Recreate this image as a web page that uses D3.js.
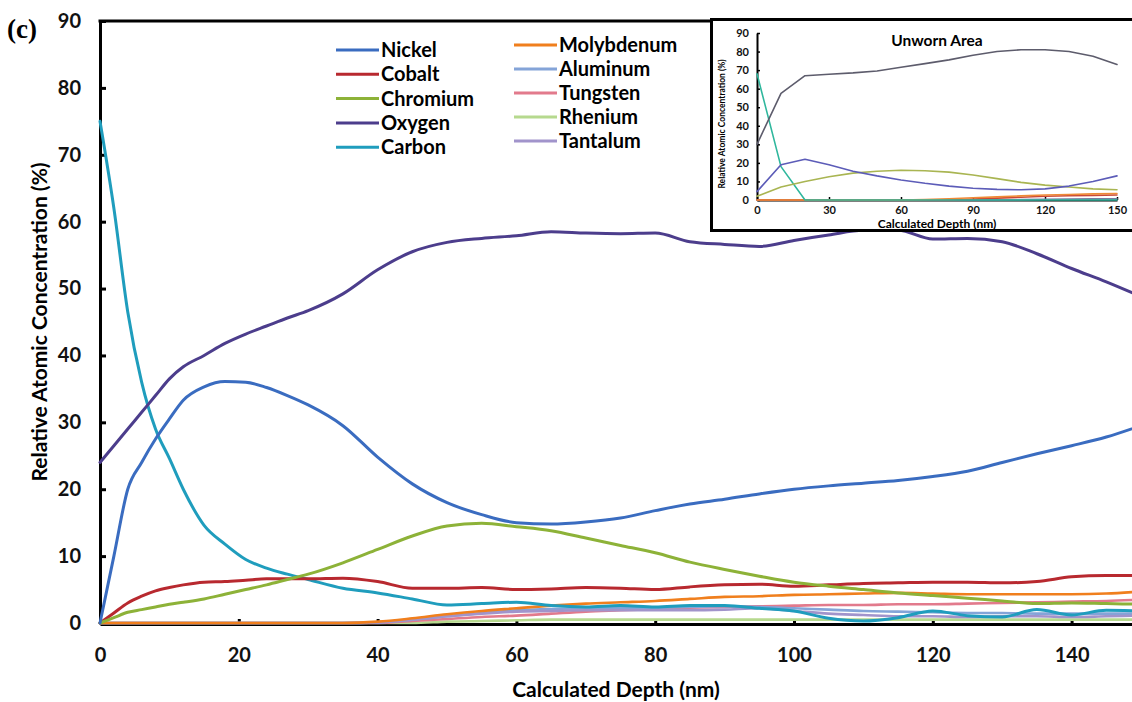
<!DOCTYPE html>
<html>
<head>
<meta charset="utf-8">
<script src="https://cdn.jsdelivr.net/npm/d3@7"></script>
<style>
  body  { margin: 0; background: #fff; overflow: hidden }
  svg   { display: block; font-family: Lato, "Open Sans", sans-serif; font-weight: bold }
  .line { fill: none; stroke-linejoin: round; stroke-linecap: round }
  .axis path, .axis line { stroke: #000 }
  .axis text { fill: #111 }
</style>
</head>
<body>
<script>
// Main chart - depth profile (nm) and atomic %
var depth      = [0, 2, 4, 6, 8, 10, 12, 15, 18, 21, 24, 27, 30, 35, 40, 45, 50, 55, 60, 65, 70, 75, 80, 85, 90, 95, 100, 105, 110, 115, 120, 125, 130, 135, 140, 145, 150]
var nickel     = [0, 10, 20, 24, 27.5, 30.5, 33.3, 35.3, 36.1, 36, 35.2, 34, 32.6, 29.5, 24.8, 20.8, 18, 16.2, 15, 14.8, 15.1, 15.7, 16.8, 17.8, 18.5, 19.3, 20, 20.5, 20.9, 21.3, 21.9, 22.7, 24, 25.3, 26.5, 27.8, 29.5]
var cobalt     = [0, 1.5, 3, 4, 4.8, 5.3, 5.7, 6.1, 6.2, 6.4, 6.6, 6.6, 6.6, 6.7, 6.2, 5.2, 5.2, 5.3, 5.0, 5.1, 5.3, 5.2, 5.0, 5.4, 5.7, 5.8, 5.5, 5.7, 5.9, 6.0, 6.1, 6.1, 6.0, 6.2, 6.9, 7.1, 7.1]
var chromium   = [0, 0.8, 1.6, 2, 2.4, 2.8, 3.1, 3.6, 4.3, 5, 5.7, 6.5, 7.3, 9, 11, 13, 14.5, 14.9, 14.4, 13.8, 12.7, 11.6, 10.5, 9.1, 8, 7, 6.1, 5.5, 5, 4.5, 4.1, 3.7, 3.3, 2.9, 3, 2.9, 2.8]
var oxygen     = [24, 26.5, 29, 31.5, 34, 36.5, 38.3, 40, 41.8, 43.2, 44.4, 45.6, 46.7, 49.2, 52.8, 55.5, 56.9, 57.5, 57.9, 58.5, 58.3, 58.2, 58.3, 57, 56.6, 56.3, 57.2, 58, 58.7, 58.7, 57.4, 57.5, 57, 55.2, 53, 51, 48.8]
var carbon     = [75, 62, 46.5, 36, 29, 24.6, 20, 14.6, 11.8, 9.5, 8.2, 7.3, 6.5, 5.2, 4.5, 3.6, 2.7, 2.9, 3.1, 2.6, 2.4, 2.6, 2.4, 2.6, 2.6, 2.2, 1.8, 0.7, 0.3, 0.8, 1.8, 1.1, 0.9, 2, 1.2, 1.9, 1.8]
var molybdenum = [0, 0, 0, 0, 0, 0, 0, 0, 0, 0, 0, 0, 0, 0, 0.2, 0.7, 1.3, 1.8, 2.2, 2.6, 2.9, 3.1, 3.3, 3.6, 3.9, 4.0, 4.2, 4.3, 4.4, 4.5, 4.4, 4.3, 4.3, 4.3, 4.3, 4.4, 4.7]
var aluminum   = [0, 0, 0, 0, 0, 0, 0, 0, 0, 0, 0, 0, 0, 0, 0.1, 0.5, 1, 1.5, 1.9, 2.1, 2.2, 2.3, 2.3, 2.4, 2.5, 2.4, 2.2, 2, 1.8, 1.7, 1.6, 1.5, 1.5, 1.4, 1.4, 1.4, 1.4]
var tungsten   = [0, 0, 0, 0, 0, 0, 0, 0, 0, 0, 0, 0, 0, 0, 0, 0.3, 0.6, 0.9, 1.1, 1.4, 1.7, 1.9, 2.1, 2.3, 2.4, 2.5, 2.6, 2.7, 2.7, 2.8, 2.8, 2.9, 3, 3.1, 3.2, 3.3, 3.5]
var rhenium    = [0, 0, 0, 0, 0, 0, 0, 0, 0, 0, 0, 0, 0, 0, 0, 0, 0.2, 0.3, 0.4, 0.5, 0.5, 0.5, 0.5, 0.5, 0.5, 0.5, 0.5, 0.5, 0.5, 0.5, 0.5, 0.5, 0.5, 0.5, 0.5, 0.5, 0.5]
var tantalum   = [0, 0, 0, 0, 0, 0, 0, 0, 0, 0, 0, 0, 0, 0, 0.1, 0.5, 1, 1.4, 1.7, 1.8, 1.9, 1.9, 1.9, 1.9, 2, 2.2, 1.8, 1.4, 1.2, 1, 1, 0.9, 1, 1, 0.9, 1, 1.1]

var names   = ["Nickel", "Cobalt", "Chromium", "Oxygen", "Carbon", "Molybdenum", "Aluminum", "Tungsten", "Rhenium", "Tantalum"]
var colours = ["#3a6cc0", "#b8292f", "#8db238", "#4c3d8c", "#1f9dbd", "#f07f1d", "#84a4d8", "#e27a8c", "#b6d98e", "#a194cb"]
var values  = [nickel, cobalt, chromium, oxygen, carbon, molybdenum, aluminum, tungsten, rhenium, tantalum]

var xTicks = [0, 20, 40, 60, 80, 100, 120, 140]
var yTicks = [0, 10, 20, 30, 40, 50, 60, 70, 80, 90]

// Inset - unworn area
var insetDepth      = [0, 10, 20, 30, 40, 50, 60, 70, 80, 90, 100, 110, 120, 130, 140, 150]
var insetOxygen     = [30, 57.5, 67, 67.8, 68.5, 69.5, 71.5, 73.5, 75.5, 78, 80, 81, 81, 80, 77.5, 73]
var insetNickel     = [4.5, 19, 22, 19, 15.5, 13, 10.8, 9, 7.5, 6.3, 5.7, 5.5, 6, 7.5, 10, 13]
var insetChromium   = [2, 7, 10, 12.5, 14.5, 15.5, 16, 15.8, 15, 13.5, 11.5, 9.5, 8, 7, 6, 5.5]
var insetCarbon     = [68, 18, 0, 0, 0, 0, 0, 0, 0, 0, 0, 0, 0, 0, 0, 0]
var insetMolybdenum = [0, 0, 0, 0, 0, 0, 0, 0.3, 0.7, 1.2, 1.7, 2.2, 2.7, 3, 3.3, 3.5]
var insetCobalt     = [0, 0, 0, 0, 0, 0, 0, 0, 0, 0.5, 1, 1.5, 2, 2.3, 2.5, 2.7]
var insetOther      = [0, 0, 0, 0, 0, 0, 0, 0, 0, 0, 0, 0.2, 0.4, 0.5, 0.6, 0.7]
var insetColours    = ["#7a7aa0", "#c8483a", "#ef8a36", "#2fb79d", "#a9b552", "#5c5cb8", "#5d5c6c"]
var insetValues     = [insetOther, insetCobalt, insetMolybdenum, insetCarbon, insetChromium, insetNickel, insetOxygen]
var insetXTicks     = [0, 30, 60, 90, 120, 150]
var insetYTicks     = [0, 10, 20, 30, 40, 50, 60, 70, 80, 90]

var W = 1132, H = 702
var svg = d3.select("body").append("svg").attr("width", W).attr("height", H)

var x = d3.scaleLinear().domain([0, 150]).range([100, 1141]),
    y = d3.scaleLinear().domain([0, 90]).range([623, 21])

// Axes
svg.append("g")
   .attr("class", "axis")
   .attr("transform", "translate(0," + (y(0) + 1) + ")")
   .call(d3.axisBottom(x).tickValues(xTicks).tickSizeInner(-5).tickSizeOuter(0).tickPadding(24))
   .call(function (g) {
     g.select(".domain").attr("stroke-width", 3)
     g.selectAll(".tick line").attr("stroke-width", 3)
     g.selectAll("text").attr("font-size", 20).attr("font-family", "Lato").attr("font-weight", "bold")
   })
svg.append("g")
   .attr("class", "axis")
   .attr("transform", "translate(" + x(0) + ",0)")
   .call(d3.axisLeft(y).tickValues(yTicks).tickSizeInner(-6).tickSizeOuter(0).tickPadding(19))
   .call(function (g) {
     g.select(".domain").attr("stroke-width", 3)
     g.selectAll(".tick line").attr("stroke-width", 3)
     g.selectAll("text").attr("font-size", 20).attr("font-family", "Lato").attr("font-weight", "bold")
   })
// Top frame
svg.append("line")
   .attr("x1", x(0) - 1.5).attr("x2", x(150))
   .attr("y1", y(90)).attr("y2", y(90))
   .attr("stroke", "#000").attr("stroke-width", 3)

// Axis titles
svg.append("text")
   .attr("x", 616).attr("y", 697)
   .attr("text-anchor", "middle").attr("font-size", 21)
   .text("Calculated Depth (nm)")
svg.append("text")
   .attr("transform", "translate(47,322) rotate(-90)")
   .attr("text-anchor", "middle").attr("font-size", 21)
   .text("Relative Atomic Concentration (%)")
svg.append("text")
   .attr("x", 7).attr("y", 38)
   .attr("font-family", "'Liberation Serif', 'DejaVu Serif', serif")
   .attr("font-size", 27)
   .text("(c)")

// Lines
var line = d3.line()
  .x(function (d, i) { return x(depth[i]) })
  .y(function (d) { return y(d) })
  .curve(d3.curveMonotoneX)

var order = [8, 7, 6, 9, 5, 4, 1, 2, 0, 3]
order.forEach(function (i) {
  svg.append("path")
     .attr("class", "line")
     .attr("d", line(values[i]))
     .attr("stroke", colours[i])
     .attr("stroke-width", i < 5 ? 3 : 2.6)
})

// Legend
names.forEach(function (n, i) {
  var col = i < 5 ? 0 : 1,
      row = i % 5,
      lx  = col ? 514 : 336,
      ly  = col ? 45 + row * 24 : 50 + row * 24.3
  svg.append("line")
     .attr("x1", lx).attr("x2", lx + 43)
     .attr("y1", ly).attr("y2", ly)
     .attr("stroke", colours[i]).attr("stroke-width", 3)
  svg.append("text")
     .attr("x", lx + 45).attr("y", ly + 7)
     .attr("font-size", 20)
     .text(n)
})

// Inset
var inset = svg.append("g")
inset.append("rect")
     .attr("x", 711.5).attr("y", 19.5).attr("width", 440).attr("height", 211)
     .attr("fill", "#fff").attr("stroke", "#000").attr("stroke-width", 3)

var ix = d3.scaleLinear().domain([0, 150]).range([757, 1117]),
    iy = d3.scaleLinear().domain([0, 90]).range([200, 33])

inset.append("g")
     .attr("class", "axis")
     .attr("transform", "translate(0," + iy(0) + ")")
     .call(d3.axisBottom(ix).tickValues(insetXTicks).tickSizeInner(-3).tickSizeOuter(0).tickPadding(6))
     .call(function (g) {
       g.select(".domain").attr("stroke-width", 2)
       g.selectAll(".tick line").attr("stroke-width", 1.5)
       g.selectAll("text").attr("font-size", 11).attr("font-family", "Lato").attr("font-weight", "bold")
     })
inset.append("g")
     .attr("class", "axis")
     .attr("transform", "translate(" + ix(0) + ",0)")
     .call(d3.axisLeft(iy).tickValues(insetYTicks).tickSizeInner(-3).tickSizeOuter(0).tickPadding(8))
     .call(function (g) {
       g.select(".domain").attr("stroke-width", 2)
       g.selectAll(".tick line").attr("stroke-width", 1.5)
       g.selectAll("text").attr("font-size", 11).attr("font-family", "Lato").attr("font-weight", "bold")
     })

var iline = d3.line()
  .x(function (d, i) { return ix(insetDepth[i]) })
  .y(function (d) { return iy(d) })
  .curve(d3.curveLinear)

insetValues.forEach(function (v, i) {
  inset.append("path")
       .attr("class", "line")
       .attr("d", iline(v))
       .attr("stroke", insetColours[i])
       .attr("stroke-width", 1.6)
})

inset.append("text")
     .attr("x", 937).attr("y", 46)
     .attr("text-anchor", "middle").attr("font-size", 15.5)
     .text("Unworn Area")
inset.append("text")
     .attr("x", 937).attr("y", 228)
     .attr("text-anchor", "middle").attr("font-size", 12)
     .text("Calculated Depth (nm)")
inset.append("text")
     .attr("transform", "translate(725,124) rotate(-90)")
     .attr("text-anchor", "middle").attr("font-size", 8.5)
     .text("Relative Atomic Concentration (%)")
</script>
</body>
</html>
